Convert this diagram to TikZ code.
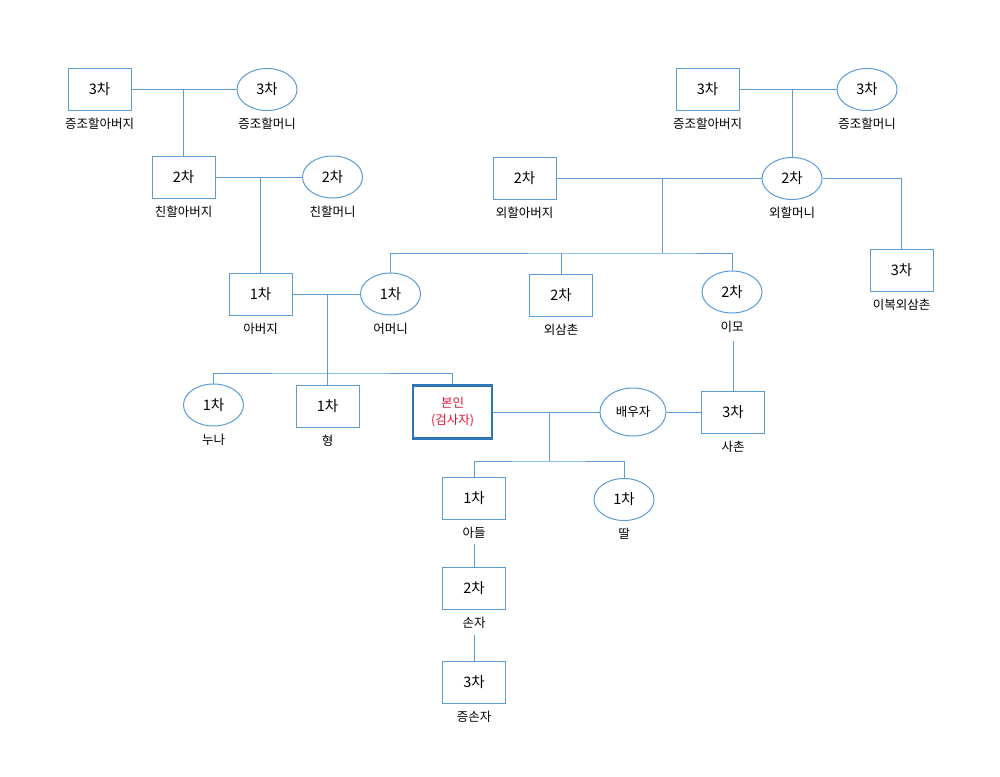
\documentclass[tikz,border=0pt]{standalone}
\usepackage{fontspec}
\setmainfont{Noto Sans CJK KR}
\usetikzlibrary{positioning,shapes.geometric}
\definecolor{lineblue}{RGB}{91,155,213}
\definecolor{selfblue}{RGB}{46,117,182}
\definecolor{selfred}{RGB}{220,20,60}
\tikzset{
  box/.style={draw=lineblue,line width=1pt,minimum width=63pt,minimum height=42pt,inner sep=0pt,font=\fontsize{14.5}{16}\selectfont},
  oval/.style={ellipse,draw=lineblue,line width=1pt,minimum width=60pt,minimum height=42pt,inner sep=0pt,font=\fontsize{14.5}{16}\selectfont},
  self/.style={draw=selfblue,line width=2.6pt,minimum width=79pt,minimum height=53pt,inner sep=0pt,align=center,text=selfred,font=\fontsize{12.5}{17}\selectfont},
  tag/.style={inner sep=0pt,font=\fontsize{12.5}{14}\selectfont},
  link/.style={draw=lineblue,line width=1pt}
}
\begin{document}
\begin{tikzpicture}[x=1pt,y=-1pt]
  \useasboundingbox (0,0) rectangle (1000,776);
  \node[box] (pgg) at (99.5,89.5) {3차};
  \node[oval] (pggm) at (267,89.5) {3차};
  \node[box] (pg) at (183.5,177) {2차};
  \node[oval] (pgm) at (332.5,177) {2차};
  \node[box] (fa) at (260.5,294) {1차};
  \node[oval] (mo) at (390.5,294) {1차};
  \node[box] (mgg) at (707.5,89.5) {3차};
  \node[oval] (mggm) at (867,89.5) {3차};
  \node[box] (mg) at (524.5,178.5) {2차};
  \node[oval] (mgm) at (792,178.5) {2차};
  \node[box] (hu) at (901.5,270) {3차};
  \node[box] (un) at (561,295) {2차};
  \node[oval] (au) at (732,292) {2차};
  \node[oval] (si) at (213.5,405) {1차};
  \node[box] (br) at (327.5,406) {1차};
  \node[self] (me) at (452.5,412) {본인\\(검사자)};
  \node[oval,minimum width=66pt,minimum height=48pt,font=\fontsize{12.5}{14}\selectfont] (sp) at (633,412) {배우자};
  \node[box] (co) at (733,412) {3차};
  \node[box] (so) at (474,498) {1차};
  \node[oval] (da) at (624,499.5) {1차};
  \node[box] (gs) at (474,588) {2차};
  \node[box] (ggs) at (474,682) {3차};

  \node[tag,below=7pt of pgg] (pgg-t) {증조할아버지};
  \node[tag,below=7pt of pggm] (pggm-t) {증조할머니};
  \node[tag,below=7pt of pg] (pg-t) {친할아버지};
  \node[tag,below=7pt of pgm] (pgm-t) {친할머니};
  \node[tag,below=7pt of fa] (fa-t) {아버지};
  \node[tag,below=7pt of mo] (mo-t) {어머니};
  \node[tag,below=7pt of mgg] (mgg-t) {증조할아버지};
  \node[tag,below=7pt of mggm] (mggm-t) {증조할머니};
  \node[tag,below=7pt of mg] (mg-t) {외할아버지};
  \node[tag,below=7pt of mgm] (mgm-t) {외할머니};
  \node[tag,below=7pt of hu] (hu-t) {이복외삼촌};
  \node[tag,below=7pt of un] (un-t) {외삼촌};
  \node[tag,below=7pt of au] (au-t) {이모};
  \node[tag,below=7pt of si] (si-t) {누나};
  \node[tag,below=7pt of br] (br-t) {형};
  \node[tag,below=7pt of co] (co-t) {사촌};
  \node[tag,below=7pt of so] (so-t) {아들};
  \node[tag,below=7pt of da] (da-t) {딸};
  \node[tag,below=7pt of gs] (gs-t) {손자};
  \node[tag,below=7pt of ggs] (ggs-t) {증손자};

  \coordinate (mbar) at (662,253);
  \coordinate (sbar) at (328,373);
  \coordinate (cbar) at (549,461);

  \path[link]
  (pgg) edge (pggm)
  (pgg -| pg) edge (pg)
  (pg) edge (pgm)
  (pg -| fa) edge (fa)
  (fa) edge (mo)
  (fa -| br) edge (br)
  (mgg) edge (mggm)
  (mgg -| mgm) edge (mgm)
  (mg) edge (mgm)
  (mbar) edge (mbar |- mg)
  (un) edge (un |- mbar)
  (me) edge (sp)
  (sp) edge (co)
  (cbar |- me) edge (cbar)
  ;
  \draw[link] (mgm) -| (hu);
  \draw[link] (mo) |- (mbar) -| (au);
  \draw[link] (si) |- (sbar) -| (me);
  \draw[link] (so) |- (cbar) -| (da);
  \draw[link,shorten <=9pt] (au-t.south -| co) -- (co);
  \draw[link,shorten <=6pt] (so-t) -- (gs);
  \draw[link,shorten <=7pt] (gs-t) -- (ggs);
\end{tikzpicture}
\end{document}
